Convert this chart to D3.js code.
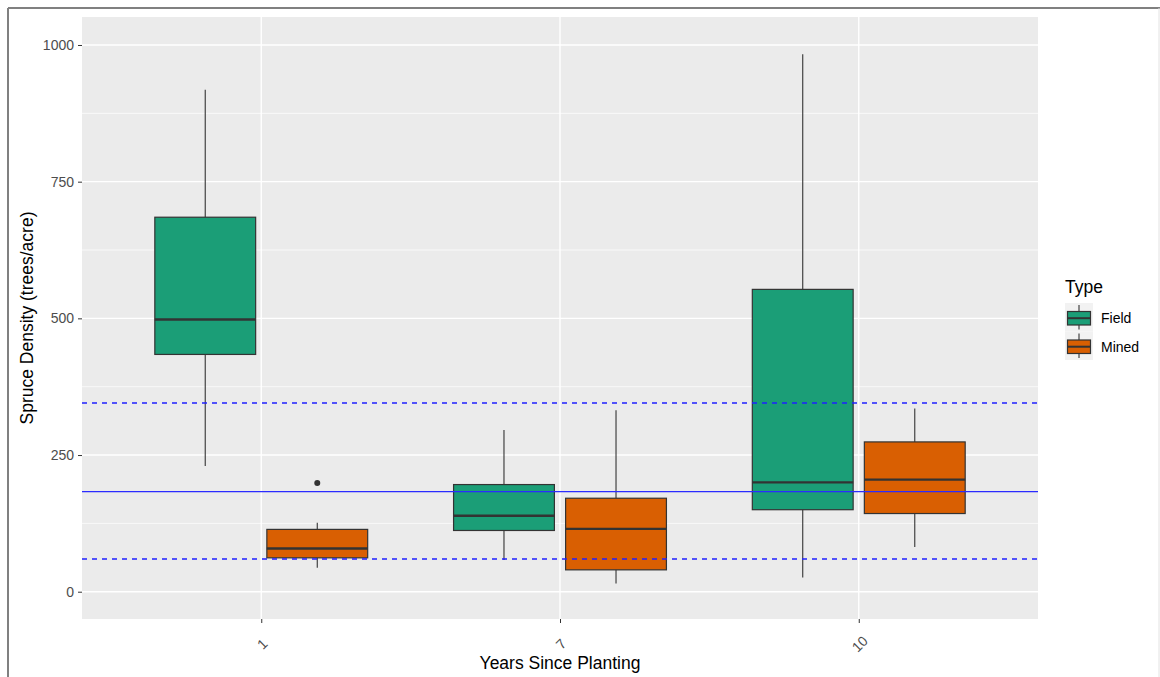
<!DOCTYPE html>
<html>
<head>
<meta charset="utf-8">
<script src="https://cdn.jsdelivr.net/npm/d3@7"></script>
<style>
  body { margin: 0; background: #fff; }
  svg { display: block; font-family: "Liberation Sans", Arial, sans-serif; }
</style>
</head>
<body>
<div class="graph-container"></div>
<script>
// categories + groups
const years = ["1", "7", "10"];
const types = ["Field", "Mined"];
const colors = ["#1B9E77", "#D95F02"];

// box stats: [lower whisker, q1, median, q3, upper whisker]
const fieldStats = [
  [230, 434, 498, 685, 918],
  [58, 112, 139, 196, 296],
  [26, 150, 200, 553, 983]
];
const minedStats = [
  [44, 62, 79, 114, 126],
  [15, 40, 115, 171, 332],
  [82, 143, 205, 274, 335]
];
const minedOutliers = [[199], [], []];
const fieldOutliers = [[], [], []];

// reference lines (mean, and the two dashed bounds)
const meanLine = 183;
const boundLines = [60, 345];

const yTicks = [0, 250, 500, 750, 1000];
const yMinor = [125, 375, 625, 875];

const W = 1160, H = 677;
const panel = { left: 82, right: 1038, top: 17, bottom: 619 };

const svg = d3.select("div.graph-container")
  .append("svg")
  .attr("width", W)
  .attr("height", H);

// the screenshot frame
svg.append("line").attr("x1", 8).attr("x2", 8).attr("y1", 8).attr("y2", H)
  .attr("stroke", "#808080").attr("stroke-width", 2);
svg.append("line").attr("x1", 8).attr("x2", W).attr("y1", 8).attr("y2", 8)
  .attr("stroke", "#808080").attr("stroke-width", 2);
svg.append("line").attr("x1", W - 1).attr("x2", W - 1).attr("y1", 8).attr("y2", H)
  .attr("stroke", "#e2e2e2").attr("stroke-width", 1);

// scales
const x = d3.scalePoint()
  .domain(years)
  .range([panel.left, panel.right])
  .padding(0.6);

const step = x.step();
const dodge = d3.scaleBand()
  .domain(types)
  .range([-0.375 * step, 0.375 * step])
  .paddingInner(0.1)
  .paddingOuter(0.05);

const y = d3.scaleLinear()
  .domain([-49.9, 1051.2])
  .range([panel.bottom, panel.top]);

// panel background
svg.append("rect")
  .attr("x", panel.left).attr("y", panel.top)
  .attr("width", panel.right - panel.left)
  .attr("height", panel.bottom - panel.top)
  .attr("fill", "#EBEBEB");

const grid = svg.append("g");
grid.selectAll("line.minor").data(yMinor).enter().append("line")
  .attr("x1", panel.left).attr("x2", panel.right)
  .attr("y1", d => y(d)).attr("y2", d => y(d))
  .attr("stroke", "#fff").attr("stroke-width", 0.7);
grid.selectAll("line.major").data(yTicks).enter().append("line")
  .attr("x1", panel.left).attr("x2", panel.right)
  .attr("y1", d => y(d)).attr("y2", d => y(d))
  .attr("stroke", "#fff").attr("stroke-width", 1.4);
grid.selectAll("line.vmajor").data(years).enter().append("line")
  .attr("x1", d => x(d)).attr("x2", d => x(d))
  .attr("y1", panel.top).attr("y2", panel.bottom)
  .attr("stroke", "#fff").attr("stroke-width", 1.4);

// axes - use d3 axis but restyle to look like ggplot
const yAxis = svg.append("g")
  .attr("transform", `translate(${panel.left},0)`)
  .call(d3.axisLeft(y).tickValues(yTicks).tickFormat(d3.format("d")).tickSize(4).tickPadding(4));
yAxis.select(".domain").remove();
yAxis.selectAll(".tick line").attr("stroke", "#333");
yAxis.selectAll(".tick text")
  .attr("fill", "#4D4D4D")
  .style("font-size", "14px")
  .style("font-family", "Liberation Sans, Arial, sans-serif");

const xAxis = svg.append("g")
  .attr("transform", `translate(0,${panel.bottom})`)
  .call(d3.axisBottom(x).tickSize(4).tickFormat(""));
xAxis.select(".domain").remove();
xAxis.selectAll(".tick line").attr("stroke", "#333");

// rotated tick labels (angle = 45 in ggplot)
svg.append("g").selectAll("text").data(years).enter().append("text")
  .attr("transform", d => `translate(${x(d) + 1},${panel.bottom + 25}) rotate(-45)`)
  .attr("text-anchor", "middle")
  .attr("dominant-baseline", "central")
  .attr("fill", "#4D4D4D")
  .style("font-size", "14px")
  .text(d => d);

// axis titles
svg.append("text")
  .attr("x", (panel.left + panel.right) / 2)
  .attr("y", 669)
  .attr("text-anchor", "middle")
  .attr("fill", "#000")
  .style("font-size", "17.5px")
  .text("Years Since Planting");

svg.append("text")
  .attr("transform", `translate(33,${(panel.top + panel.bottom) / 2}) rotate(-90)`)
  .attr("text-anchor", "middle")
  .attr("fill", "#000")
  .style("font-size", "17.5px")
  .text("Spruce Density (trees/acre)");

// build box rows from the arrays
const boxes = [];
years.forEach((yr, i) => {
  [fieldStats, minedStats].forEach((stats, t) => {
    const s = stats[i];
    boxes.push({
      year: yr, type: types[t], color: colors[t],
      lo: s[0], q1: s[1], med: s[2], q3: s[3], hi: s[4],
      out: (t === 0 ? fieldOutliers : minedOutliers)[i]
    });
  });
});

const bw = dodge.bandwidth();
const cx = d => x(d.year) + dodge(d.type) + bw / 2;

const g = svg.append("g");
const box = g.selectAll("g.box").data(boxes).enter().append("g").attr("class", "box");

// whiskers
box.append("line")
  .attr("x1", cx).attr("x2", cx)
  .attr("y1", d => y(d.q3)).attr("y2", d => y(d.hi))
  .attr("stroke", "#333").attr("stroke-width", 1.1);
box.append("line")
  .attr("x1", cx).attr("x2", cx)
  .attr("y1", d => y(d.q1)).attr("y2", d => y(d.lo))
  .attr("stroke", "#333").attr("stroke-width", 1.1);

box.append("rect")
  .attr("x", d => x(d.year) + dodge(d.type))
  .attr("width", bw)
  .attr("y", d => y(d.q3))
  .attr("height", d => y(d.q1) - y(d.q3))
  .attr("fill", d => d.color)
  .attr("stroke", "#333")
  .attr("stroke-width", 1.2);

// median
box.append("line")
  .attr("x1", d => x(d.year) + dodge(d.type))
  .attr("x2", d => x(d.year) + dodge(d.type) + bw)
  .attr("y1", d => y(d.med)).attr("y2", d => y(d.med))
  .attr("stroke", "#333").attr("stroke-width", 2.4);

// outliers
box.selectAll("circle").data(d => d.out.map(v => ({ v: v, d: d }))).enter()
  .append("circle")
  .attr("cx", o => cx(o.d))
  .attr("cy", o => y(o.v))
  .attr("r", 3)
  .attr("fill", "#333");

// reference lines on top
svg.append("line")
  .attr("x1", panel.left).attr("x2", panel.right)
  .attr("y1", y(meanLine)).attr("y2", y(meanLine))
  .attr("stroke", "#2b2bff").attr("stroke-width", 1.2);

svg.selectAll("line.bound").data(boundLines).enter().append("line")
  .attr("class", "bound")
  .attr("x1", panel.left).attr("x2", panel.right)
  .attr("y1", d => y(d)).attr("y2", d => y(d))
  .attr("stroke", "#2020ff").attr("stroke-width", 1.5)
  .attr("stroke-dasharray", "5,5");

// legend
const leg = svg.append("g").attr("transform", "translate(1065,0)");
leg.append("text")
  .attr("x", 0).attr("y", 293)
  .attr("fill", "#000")
  .style("font-size", "17.5px")
  .text("Type");

const key = leg.selectAll("g.key").data(types).enter().append("g")
  .attr("class", "key")
  .attr("transform", (d, i) => `translate(0,${303 + i * 28.5})`);

key.append("rect")
  .attr("width", 28).attr("height", 28.5)
  .attr("fill", "#F2F2F2");
key.append("line")
  .attr("x1", 14).attr("x2", 14).attr("y1", 2).attr("y2", 26.5)
  .attr("stroke", "#333").attr("stroke-width", 1.1);
key.append("rect")
  .attr("x", 2.5).attr("y", 8.5)
  .attr("width", 23).attr("height", 13.5)
  .attr("fill", (d, i) => colors[i])
  .attr("stroke", "#333").attr("stroke-width", 1.2);
key.append("line")
  .attr("x1", 2.5).attr("x2", 25.5).attr("y1", 15.2).attr("y2", 15.2)
  .attr("stroke", "#333").attr("stroke-width", 2);
key.append("text")
  .attr("x", 36).attr("y", 15)
  .attr("dominant-baseline", "central")
  .attr("fill", "#000")
  .style("font-size", "14px")
  .text(d => d);
</script>
</body>
</html>
